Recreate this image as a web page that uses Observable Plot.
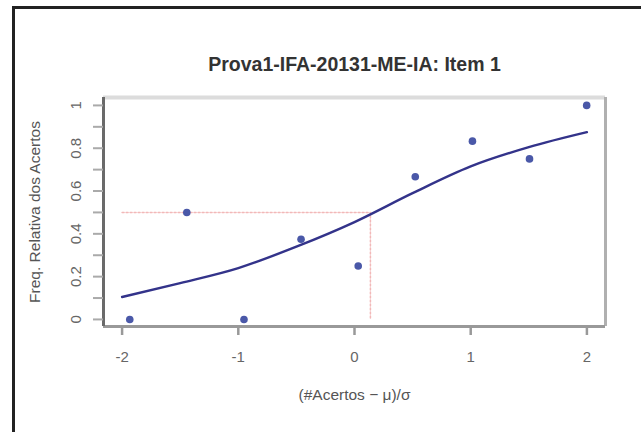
<!DOCTYPE html>
<html><head><meta charset="utf-8">
<script src="https://cdn.jsdelivr.net/npm/d3@7"></script>
<script src="https://cdn.jsdelivr.net/npm/@observablehq/plot@0.6"></script>
<style>
body{margin:0;background:#fff}
#wrap{position:relative;width:641px;height:432px;overflow:hidden;background:#fff}
#border{position:absolute;left:12px;top:6px;width:700px;height:500px;border-left:3px solid #222;border-top:3px solid #222}
#chart{position:absolute;left:0;top:0}
</style></head>
<body><div id="wrap"><div id="border"></div><div id="chart"></div></div>
<script>
const titleText = "Prova1-IFA-20131-ME-IA: Item 1";
const xLabelText = "(#Acertos \u2212 \u03bc)/\u03c3";
const yLabelText = "Freq. Relativa dos Acertos";
const xDomain = [-2.16, 2.16];
const yDomain = [-0.033, 1.037];
const xTicks = [-2, -1, 0, 1, 2];
const yTicks = [0, 0.1, 0.2, 0.3, 0.4, 0.5, 0.6, 0.7, 0.8, 0.9, 1];
const yLabels = [0, 0.2, 0.4, 0.6, 0.8, 1];
// observed points
const scoreX = [-1.934, -1.443, -0.951, -0.46, 0.032, 0.523, 1.015, 1.506, 1.998];
const propY = [0, 0.5, 0, 0.375, 0.25, 0.667, 0.833, 0.75, 1];
// fitted curve
const curveX = [-2, -1.5, -1, -0.5, 0, 0.5, 1, 1.5, 2];
const curveY = [0.105, 0.17, 0.24, 0.34, 0.455, 0.59, 0.715, 0.805, 0.875];
// guide (difficulty at p = 0.5)
const guideX = [-2, 0.137, 0.137];
const guideY = [0.5, 0.5, 0];

const pts = scoreX.map((x, i) => ({x, y: propY[i]}));
const curve = curveX.map((x, i) => ({x, y: curveY[i]}));
const guide = guideX.map((x, i) => ({x, y: guideY[i]}));
const font = "'Liberation Sans', Arial, Helvetica, sans-serif";

const chart = Plot.plot({
  width: 641, height: 432,
  marginLeft: 103, marginRight: 36, marginTop: 97, marginBottom: 106,
  style: {background: "transparent", fontFamily: font, fontSize: "15px", color: "#666"},
  x: {domain: xDomain, axis: null},
  y: {domain: yDomain, axis: null},
  marks: [
    Plot.line(guide, {x: "x", y: "y", stroke: "#f2b8b8", strokeWidth: 1.5, strokeDasharray: "2,2"}),
    Plot.line(curve, {x: "x", y: "y", curve: "monotone-x", stroke: "#33338a", strokeWidth: 2.4}),
    Plot.dot(pts, {x: "x", y: "y", r: 3.8, fill: "#4a58a8", stroke: null}),
    // box
    Plot.ruleY([yDomain[1]], {stroke: "#dcdcdc", strokeWidth: 4}),
    Plot.ruleX([xDomain[1]], {stroke: "#b0b0b0", strokeWidth: 3}),
    Plot.ruleY([yDomain[0]], {stroke: "#999", strokeWidth: 3}),
    Plot.ruleX([xDomain[0]], {stroke: "#6a6a6a", strokeWidth: 3}),
    Plot.axisX({ticks: xTicks, tickSize: 9, tickPadding: 16, stroke: "#999", strokeWidth: 2.5,
      fill: "#666", fontSize: 15, tickFormat: d => String(d), label: null}),
    Plot.axisY({ticks: yTicks, tickSize: 10, stroke: "#aaa", strokeWidth: 2,
      tickFormat: () => "", label: null}),
    Plot.text(yLabels, {y: d => d, text: d => String(d), frameAnchor: "left", dx: -27,
      rotate: -90, textAnchor: "middle", fill: "#666", fontSize: 15}),
    Plot.text([titleText], {frameAnchor: "top", dy: -40, fontWeight: "bold", fontSize: 19.5,
      fill: "#333", textAnchor: "middle"}),
    Plot.text([xLabelText], {frameAnchor: "bottom", dy: 73, fontSize: 15.5, fill: "#555", textAnchor: "middle"}),
    Plot.text([yLabelText], {frameAnchor: "left", dx: -68, rotate: -90, fontSize: 15.5, fill: "#555", textAnchor: "middle"})
  ]
});
document.getElementById("chart").appendChild(chart);
</script>
</body></html>
